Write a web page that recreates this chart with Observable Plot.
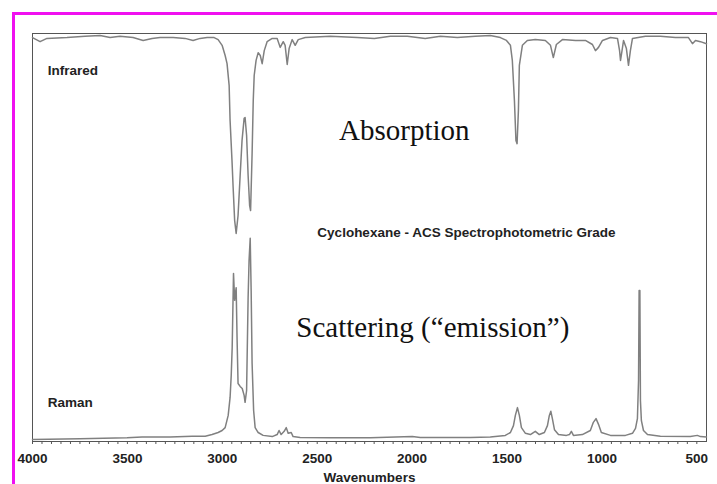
<!DOCTYPE html>
<html>
<head>
<meta charset="utf-8">
<script src="https://cdn.jsdelivr.net/npm/d3@7"></script>
<script src="https://cdn.jsdelivr.net/npm/@observablehq/plot@0.6"></script>
<style>
  html, body { margin: 0; padding: 0; background: #fff; overflow: hidden; }
  #wrap { position: relative; width: 717px; height: 484px; overflow: hidden; }
  #border { position: absolute; left: 12px; top: 12px; width: 800px; height: 600px;
            border-left: 3px solid #f010f0; border-top: 3px solid #f010f0; pointer-events: none; }
</style>
</head>
<body>
<div id="wrap"><div id="border"></div></div>
<script>
// Infrared spectrum (wavenumber, signal level in % of panel height)
const irWavenumbers = [4000,3960,3924,3818,3723,3644,3591,3539,3470,3417,3370,3328,3259,3196,3154,3117,3080,3043,3022,3001,2985,2975,2964,2959,2949,2943,2935,2927,2917,2906,2896,2885,2880,2872,2864,2856,2851,2843,2837,2832,2822,2811,2800,2790,2779,2764,2737,2711,2695,2679,2669,2658,2648,2632,2616,2600,2563,2431,2289,2199,2115,2025,1931,1851,1762,1667,1588,1535,1503,1482,1472,1461,1453,1447,1440,1435,1419,1393,1351,1298,1271,1256,1240,1208,1139,1087,1050,1034,1018,997,955,918,907,902,894,886,871,860,850,839,771,692,613,544,523,507,481,449];
const irValues = [99.0,98.0,98.8,99.0,99.3,99.5,99.0,99.3,99.0,98.3,98.8,99.0,99.0,98.8,98.3,98.8,99.0,99.0,98.5,97.1,94.6,92.6,87.3,78.7,68.9,62.3,54.2,51.0,55.4,65.2,73.8,79.2,79.4,75.0,65.2,57.8,56.6,70.6,83.6,89.7,93.4,95.3,94.6,92.6,95.8,98.0,98.8,98.8,96.6,98.0,97.1,92.4,96.3,98.5,97.1,98.5,99.0,99.3,99.0,98.8,99.3,99.3,98.8,99.3,99.0,99.3,99.5,99.0,98.3,97.1,93.4,83.6,73.8,73.0,81.1,92.2,97.1,98.3,98.5,98.3,97.1,94.1,97.3,98.5,98.3,98.3,97.3,95.8,96.6,98.3,99.0,98.8,95.8,93.4,95.8,98.3,96.3,92.2,95.8,98.8,99.3,99.3,99.0,99.0,97.5,98.3,98.0,97.5];

// Raman spectrum
const ramanWavenumbers = [4000,3750,3502,3423,3275,3159,3090,3054,3022,3001,2985,2969,2959,2953,2948,2941,2935,2927,2922,2917,2906,2895,2885,2880,2872,2864,2859,2853,2848,2843,2835,2827,2811,2785,2737,2711,2701,2690,2674,2663,2653,2637,2627,2590,2431,2220,1999,1957,1693,1588,1509,1482,1466,1456,1445,1435,1424,1403,1377,1351,1330,1303,1287,1277,1269,1261,1250,1229,1187,1171,1161,1150,1103,1061,1045,1031,1018,1003,955,876,839,823,813,807,804,800,797,792,781,760,692,534,497,481,449];
const ramanValues = [0.5,0.7,0.9,1.1,1.1,1.3,1.3,1.7,2.2,2.7,3.4,6.4,10.8,16.2,23.0,41.2,34.6,37.7,24.8,14.2,13.5,13.0,11.3,9.6,12.5,35.3,44.4,49.8,37.0,19.1,7.6,3.4,2.2,1.5,1.2,1.7,2.7,1.7,2.5,3.4,2.0,2.2,1.2,1.0,0.9,0.9,1.2,1.0,1.0,1.1,1.5,2.2,3.9,6.4,8.3,6.4,3.4,2.0,1.7,2.5,1.7,2.2,3.9,6.4,7.4,5.6,2.9,1.7,1.5,1.7,2.5,1.5,1.7,2.7,4.7,5.6,4.2,2.2,1.5,1.5,2.0,3.2,5.6,15.0,37.0,37.0,10.0,5.1,2.7,1.7,1.3,1.2,1.5,1.2,1.1];

// Axis ticks
const majorTicks = [4000,3500,3000,2500,2000,1500,1000,500];
const minorTicks = d3.range(500, 4001, 50);

// Annotations
const sideLabels = [
  {text: "Infrared", wn: 3920, v: 90.9},
  {text: "Raman", wn: 3920, v: 9.6}
];
const serifLabels = [
  {text: "Absorption", wn: 2041, v: 76.2},
  {text: "Scattering (\u201Cemission\u201D)", wn: 1891, v: 27.9}
];
const titleLabels = [
  {text: "Cyclohexane - ACS Spectrophotometric Grade", wn: 1714, v: 51.1}
];

const irData = irWavenumbers.map((wn, i) => ({wn, v: irValues[i]}));
const ramanData = ramanWavenumbers.map((wn, i) => ({wn, v: ramanValues[i]}));

const sans = "'Liberation Sans', Arial, Helvetica, sans-serif";
const serif = "'Liberation Serif', 'Times New Roman', Times, serif";

const chart = Plot.plot({
  width: 717,
  height: 484,
  marginTop: 33,
  marginRight: 11,
  marginBottom: 43,
  marginLeft: 32,
  style: {fontFamily: sans, background: "transparent", color: "#222"},
  x: {domain: [4000, 449]},
  y: {domain: [0, 100], axis: null},
  marks: [
    Plot.frame({stroke: "#555", strokeWidth: 1}),
    Plot.axisX({ticks: minorTicks, tickSize: 3, tickFormat: () => "", label: null, stroke: "#555"}),
    Plot.axisX({ticks: majorTicks, tickSize: 0, tickPadding: 12, tickFormat: d => String(d), label: null,
                fontWeight: "bold", fontSize: 13.5, fill: "#222"}),
    Plot.line(irData, {x: "wn", y: "v", stroke: "#808080", strokeWidth: 1.5}),
    Plot.line(ramanData, {x: "wn", y: "v", stroke: "#808080", strokeWidth: 1.5}),
    Plot.text(sideLabels, {x: "wn", y: "v", text: "text", textAnchor: "start", fontWeight: "bold", fontSize: 13.5, fill: "#222"}),
    Plot.text(titleLabels, {x: "wn", y: "v", text: "text", fontWeight: "bold", fontSize: 13.5, fill: "#222"}),
    Plot.text(serifLabels, {x: "wn", y: "v", text: "text", fontFamily: serif, fontSize: 29, fill: "#111"}),
    Plot.text(["Wavenumbers"], {frameAnchor: "bottom", dy: 40, fontWeight: "bold", fontSize: 13.5, fill: "#222"})
  ]
});
document.getElementById("wrap").prepend(chart);
</script>
</body>
</html>
